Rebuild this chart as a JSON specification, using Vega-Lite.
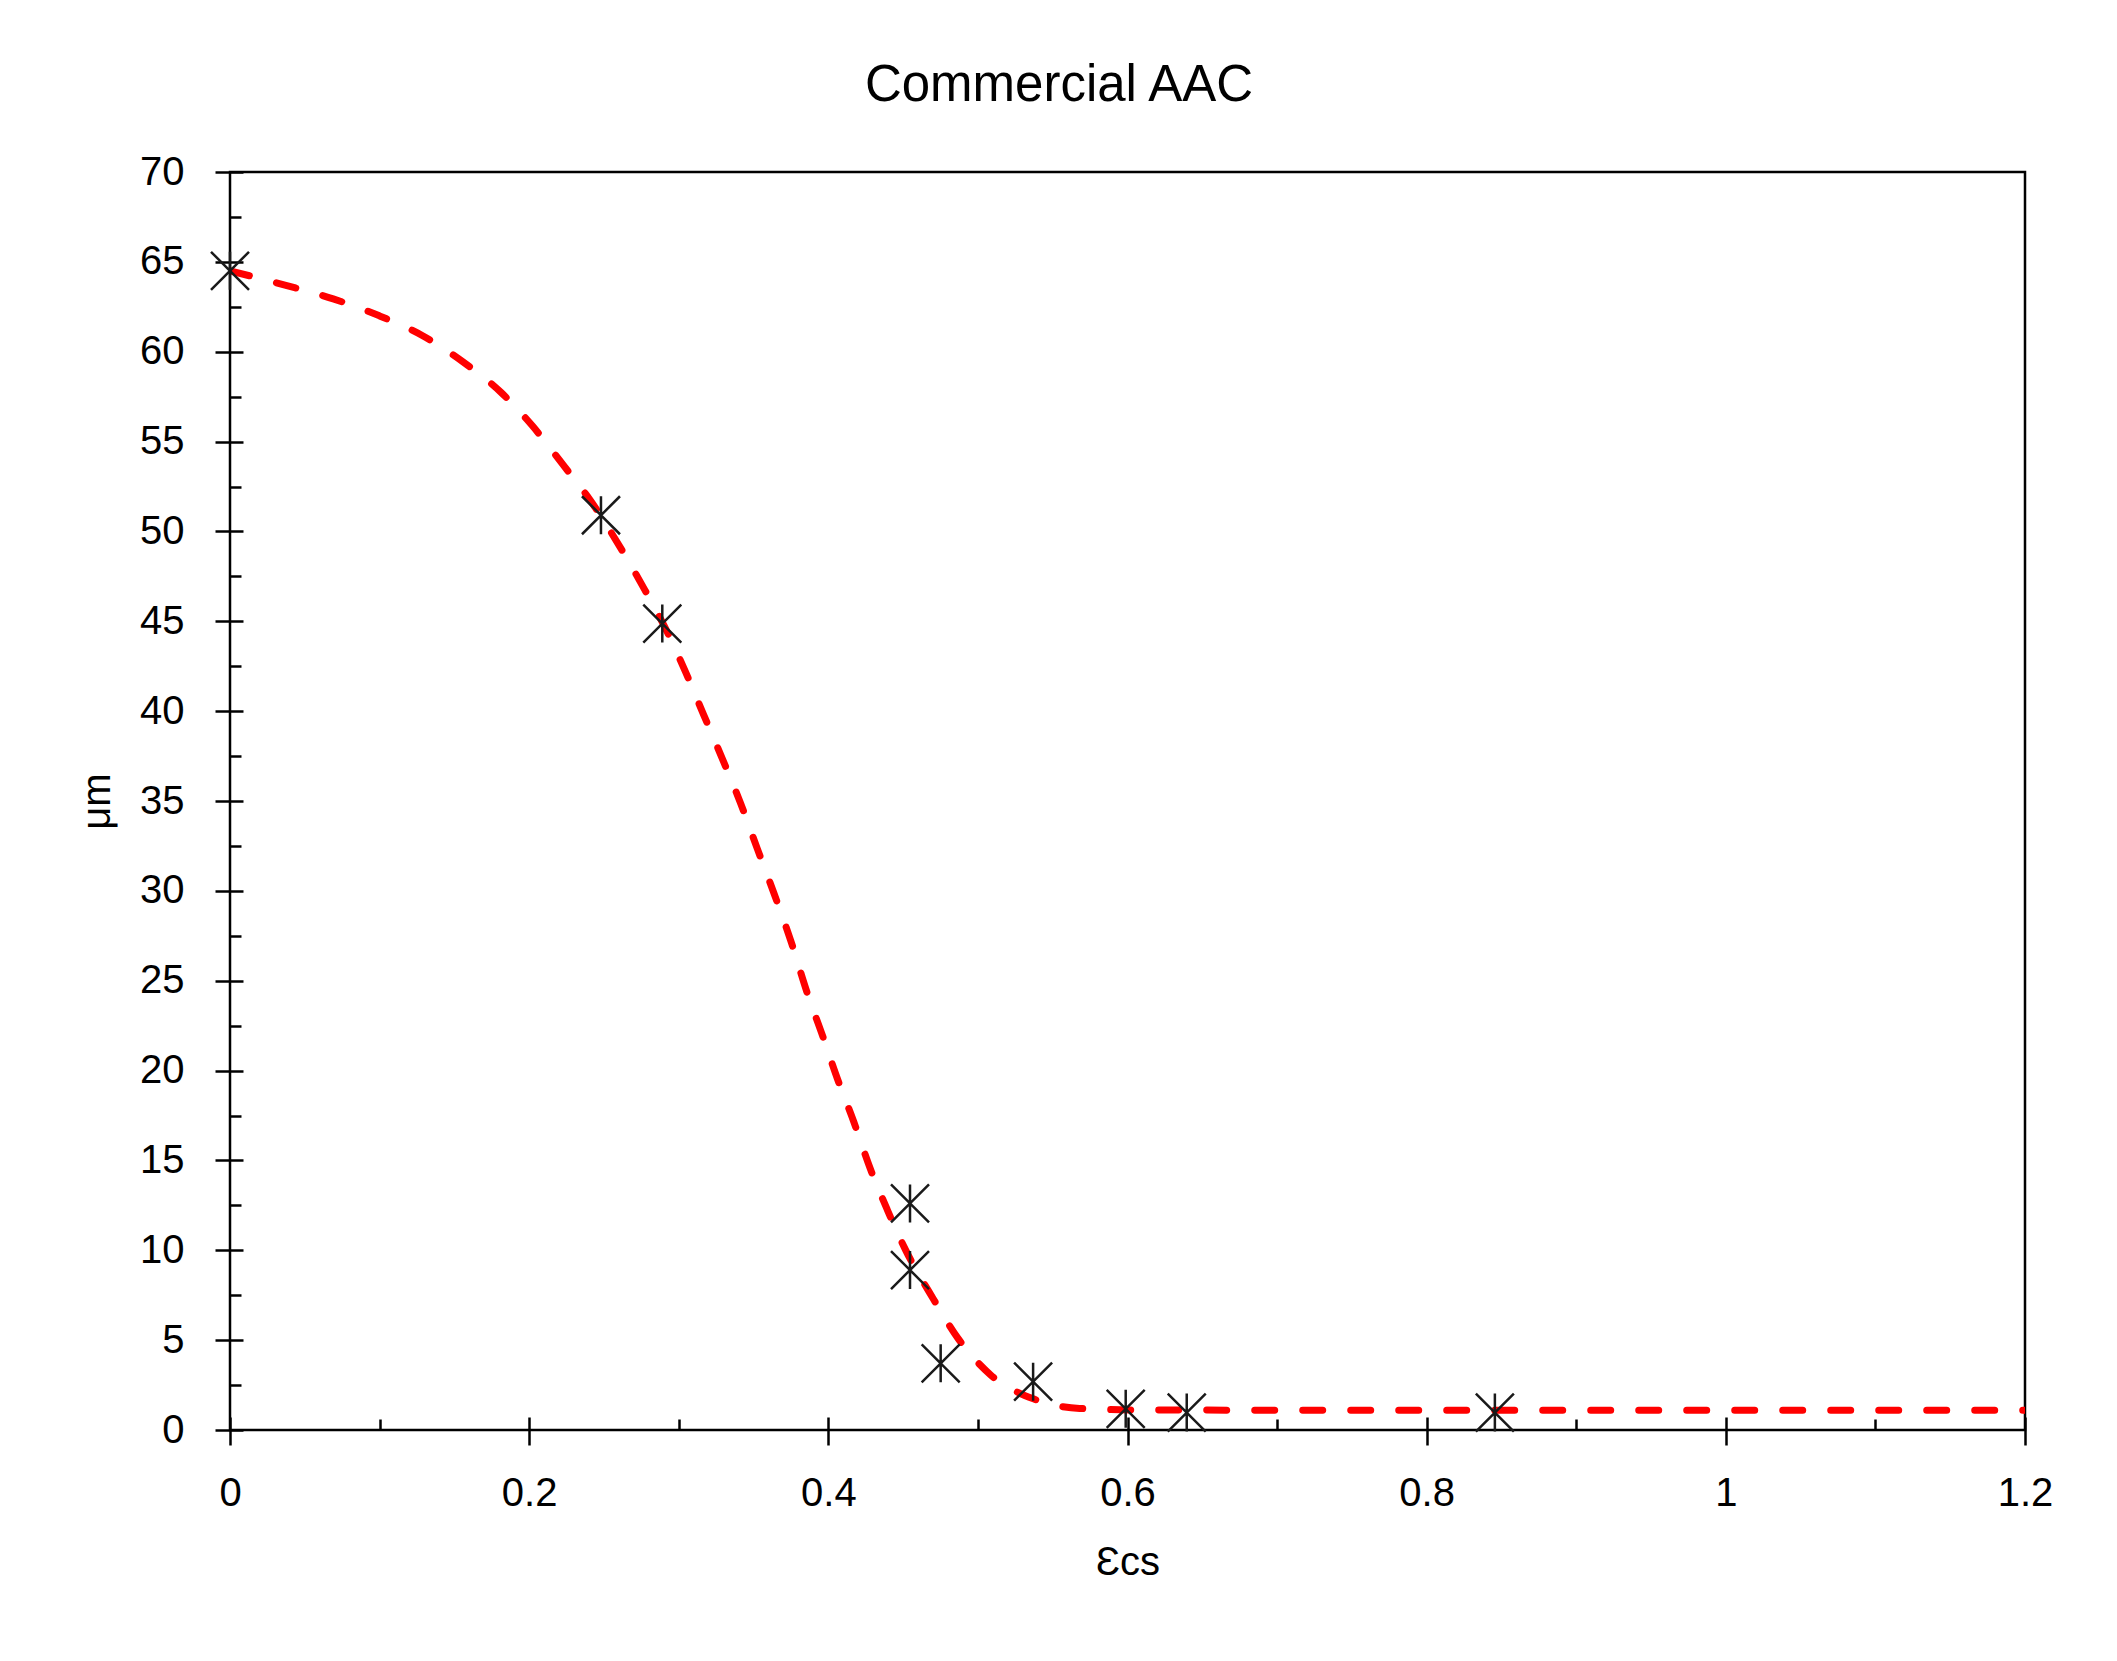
{
  "$schema": "https://vega.github.io/schema/vega-lite/v6.json",
  "autosize": {"type": "none"},
  "padding": {"left": 230, "top": 172, "right": 92, "bottom": 231},
  "width": 1795,
  "height": 1258,
  "background": "white",
  "config": {
    "view": {"stroke": "black", "strokeWidth": 2.5},
    "font": "Liberation Sans",
    "axis": {"grid": false, "domain": false, "tickColor": "black", "tickWidth": 2.5, "labelColor": "black", "labelFont": "Liberation Sans", "labelFontSize": 40, "titleFont": "Liberation Sans", "titleFontSize": 40, "titleFontWeight": "normal", "titleColor": "black", "labelFlush": false, "labelOverlap": false}
  },
  "title": {"text": "Commercial AAC", "fontSize": 51, "fontWeight": "normal", "color": "black", "font": "Liberation Sans", "anchor": "middle", "dx": -68.5, "offset": 40},
  "datasets": {
    "curve": [
      {"ecs": 0, "um": 64.5},
      {"ecs": 0.038, "um": 63.68},
      {"ecs": 0.069, "um": 62.94},
      {"ecs": 0.0995, "um": 62.01},
      {"ecs": 0.1285, "um": 60.9},
      {"ecs": 0.156, "um": 59.42},
      {"ecs": 0.181, "um": 57.75},
      {"ecs": 0.202, "um": 55.89},
      {"ecs": 0.223, "um": 53.67},
      {"ecs": 0.239, "um": 51.95},
      {"ecs": 0.261, "um": 49.1},
      {"ecs": 0.2756, "um": 47.0},
      {"ecs": 0.2934, "um": 44.22},
      {"ecs": 0.3046, "um": 42.17},
      {"ecs": 0.3168, "um": 39.77},
      {"ecs": 0.3291, "um": 37.36},
      {"ecs": 0.3414, "um": 34.86},
      {"ecs": 0.3525, "um": 32.35},
      {"ecs": 0.3637, "um": 29.85},
      {"ecs": 0.3748, "um": 27.25},
      {"ecs": 0.386, "um": 24.29},
      {"ecs": 0.396, "um": 21.97},
      {"ecs": 0.406, "um": 19.56},
      {"ecs": 0.417, "um": 17.15},
      {"ecs": 0.428, "um": 14.55},
      {"ecs": 0.4395, "um": 12.24},
      {"ecs": 0.4517, "um": 10.01},
      {"ecs": 0.47, "um": 7.32},
      {"ecs": 0.4867, "um": 5.1},
      {"ecs": 0.5086, "um": 3.06},
      {"ecs": 0.5375, "um": 1.72},
      {"ecs": 0.568, "um": 1.2},
      {"ecs": 0.613, "um": 1.11},
      {"ecs": 0.8, "um": 1.1},
      {"ecs": 1.2, "um": 1.1}
    ],
    "points": [
      {"ecs": 0, "um": 64.5},
      {"ecs": 0.248, "um": 50.9},
      {"ecs": 0.289, "um": 44.87},
      {"ecs": 0.4546, "um": 12.61},
      {"ecs": 0.4546, "um": 8.9},
      {"ecs": 0.4751, "um": 3.71},
      {"ecs": 0.5369, "um": 2.69},
      {"ecs": 0.5988, "um": 1.18},
      {"ecs": 0.6396, "um": 0.97},
      {"ecs": 0.8456, "um": 0.97}
    ]
  },
  "resolve": {"axis": {"x": "independent", "y": "independent"}},
  "layer": [
    {
      "data": {"name": "curve"},
      "mark": {"type": "line", "color": "#ff0000", "strokeWidth": 7, "strokeDash": [20, 28], "strokeCap": "round", "interpolate": "monotone", "clip": true},
      "encoding": {
        "x": {"field": "ecs", "type": "quantitative", "scale": {"domain": [0, 1.2], "nice": false},
          "axis": {"orient": "bottom", "values": [0, 0.2, 0.4, 0.6, 0.8, 1, 1.2], "format": "~g", "offset": -13, "tickSize": 28, "labelPadding": 28, "title": "Ɛcs", "titleX": 897.5, "titleY": 157, "titleBaseline": "alphabetic", "titleAlign": "center"}},
        "y": {"field": "um", "type": "quantitative", "scale": {"domain": [0, 70], "nice": false},
          "axis": {"orient": "left", "values": [0, 5, 10, 15, 20, 25, 30, 35, 40, 45, 50, 55, 60, 65, 70], "offset": -13, "tickSize": 28, "labelPadding": 31, "title": "μm", "titleX": -134, "titleY": 629, "titleAngle": 270, "titleBaseline": "alphabetic", "titleAlign": "center"}}
      }
    },
    {
      "data": {"name": "points"},
      "mark": {"type": "point", "shape": "M-1,-1L1,1M1,-1L-1,1M0,-1L0,1", "size": 1444, "filled": false, "stroke": "#1a1a1a", "strokeWidth": 2.5, "opacity": 1},
      "encoding": {
        "x": {"field": "ecs", "type": "quantitative", "scale": {"domain": [0, 1.2], "nice": false},
          "axis": {"orient": "bottom", "values": [0.1, 0.3, 0.5, 0.7, 0.9, 1.1], "offset": -11, "tickSize": 11, "labels": false, "title": null}},
        "y": {"field": "um", "type": "quantitative", "scale": {"domain": [0, 70], "nice": false},
          "axis": {"orient": "left", "values": [2.5, 7.5, 12.5, 17.5, 22.5, 27.5, 32.5, 37.5, 42.5, 47.5, 52.5, 57.5, 62.5, 67.5], "offset": -11, "tickSize": 11, "labels": false, "title": null}}
      }
    }
  ]
}
